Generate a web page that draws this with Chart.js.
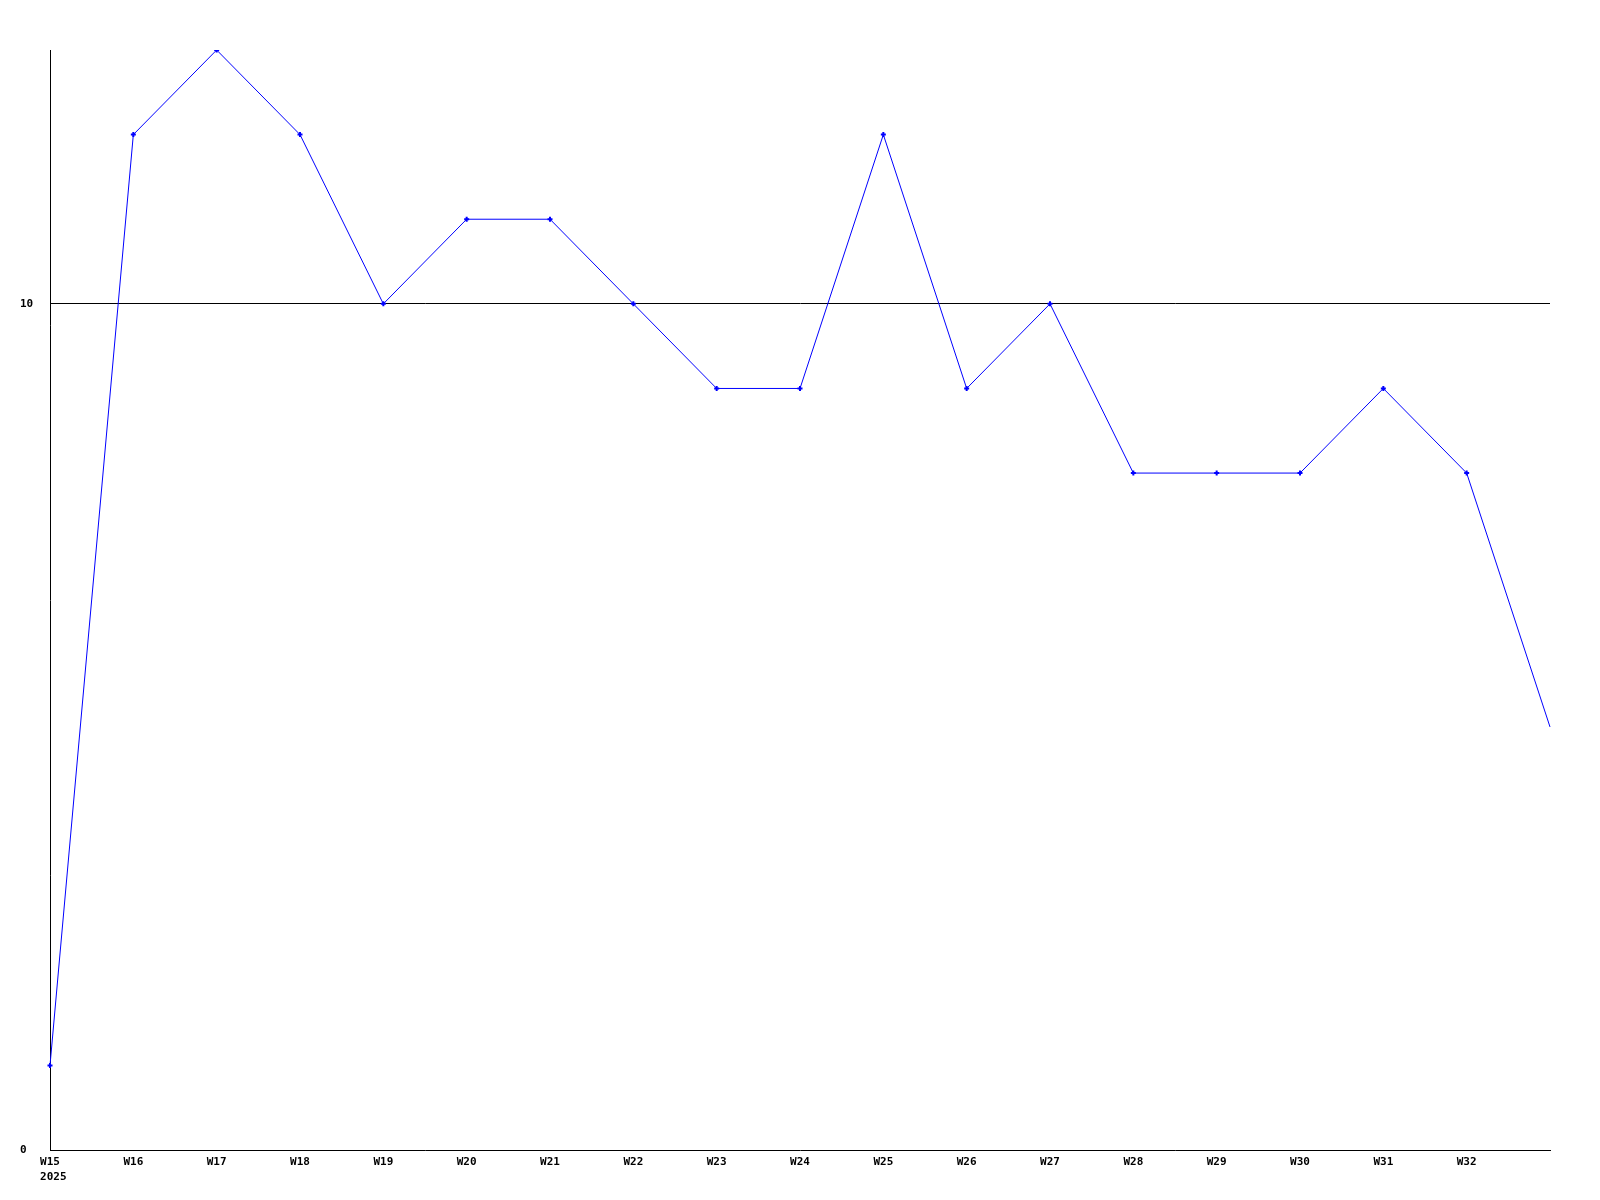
<!DOCTYPE html>
<html>
<head>
<meta charset="utf-8">
<script src="https://cdn.jsdelivr.net/npm/chart.js@4/dist/chart.umd.min.js"></script>
<style>
    html, body { margin: 0; padding: 0; background: #fff; }
    #wrap { width: 1600px; height: 1200px; }
</style>
</head>
<body>
<div id="wrap"><canvas id="weekChart" width="1600" height="1200"></canvas></div>
<script>
const weeks = ['W15', 'W16', 'W17', 'W18', 'W19', 'W20', 'W21', 'W22', 'W23', 'W24',
               'W25', 'W26', 'W27', 'W28', 'W29', 'W30', 'W31', 'W32', 'W33'];
const year = '2025';
const counts = [1, 12, 13, 12, 10, 11, 11, 10, 9, 9, 12, 9, 10, 8, 8, 8, 9, 8, 5];
const yTicks = [0, 10];

const monoFont = { family: '"DejaVu Sans Mono", "Liberation Mono", monospace', size: 11, weight: 'bold' };
const lastIdx = counts.length - 1;

// year under the first week label, left aligned with it
const yearLabel = {
    id: 'yearLabel',
    afterDraw(chart) {
        const x = chart.scales.x;
        const ctx = chart.ctx;
        ctx.save();
        ctx.font = 'bold 11px "DejaVu Sans Mono", "Liberation Mono", monospace';
        ctx.fillStyle = '#000';
        ctx.textAlign = 'left';
        ctx.textBaseline = 'middle';
        const w = ctx.measureText(weeks[0]).width;
        ctx.fillText(year, x.getPixelForValue(0) - w / 2, x.top + 27);
        ctx.restore();
    }
};

new Chart(document.getElementById('weekChart'), {
    type: 'line',
    data: {
        labels: weeks,
        datasets: [{
            data: counts,
            borderColor: '#0000ff',
            backgroundColor: '#0000ff',
            borderWidth: 1,
            tension: 0,
            pointStyle: 'cross',
            pointRadius: c => c.dataIndex === lastIdx ? 0 : 2.5,
            pointHoverRadius: c => c.dataIndex === lastIdx ? 0 : 2.5,
            pointBorderWidth: 2,
            fill: false
        }]
    },
    options: {
        responsive: false,
        animation: false,
        devicePixelRatio: 1,
        layout: { padding: { top: 50, right: 50, left: 20, bottom: 0 } },
        plugins: {
            legend: { display: false },
            tooltip: { enabled: false }
        },
        scales: {
            x: {
                type: 'category',
                offset: false,
                grid: { display: false, drawTicks: false },
                border: { display: true, color: '#000', width: 1 },
                ticks: {
                    color: '#000',
                    font: monoFont,
                    padding: 6,
                    maxRotation: 0,
                    autoSkip: false,
                    callback: (v, i) => i === lastIdx ? '' : weeks[i]
                },
                afterFit: s => { s.height = 50; }
            },
            y: {
                min: 0,
                max: 13,
                afterBuildTicks: s => { s.ticks = yTicks.map(v => ({ value: v })); },
                grid: {
                    drawTicks: false,
                    color: ctx => ctx.tick && ctx.tick.value === 10 ? '#000' : 'rgba(0,0,0,0)',
                    lineWidth: 1
                },
                border: { display: true, color: '#000', width: 1 },
                ticks: {
                    color: '#000',
                    font: monoFont,
                    crossAlign: 'far',
                    padding: 8
                },
                afterFit: s => { s.width = 30; }
            }
        }
    },
    plugins: [yearLabel]
});
</script>
</body>
</html>
